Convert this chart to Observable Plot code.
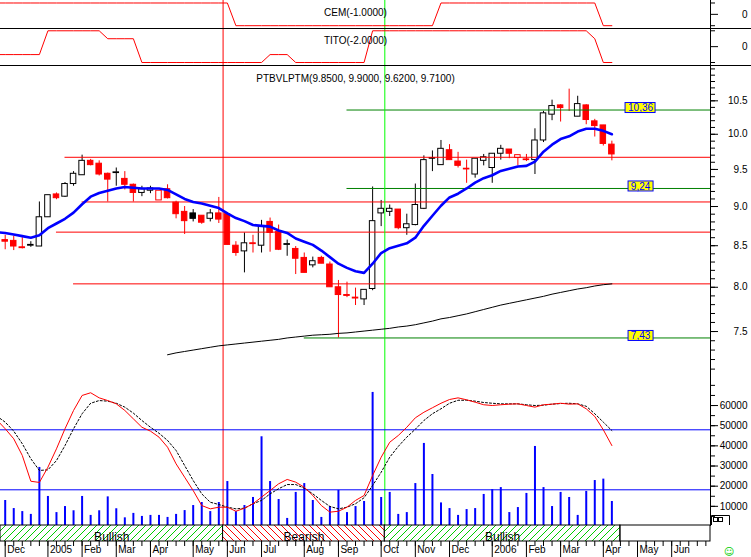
<!DOCTYPE html>
<html>
<head>
<meta charset="utf-8">
<script src="https://cdn.jsdelivr.net/npm/d3@7"></script>
<script src="https://cdn.jsdelivr.net/npm/@observablehq/plot@0.6"></script>
<style>
  html, body { margin: 0; padding: 0; background: #fff; }
  #chart { position: relative; width: 751px; height: 557px; overflow: hidden; background: #fff;
           font-family: "Liberation Sans", Arial, sans-serif; }
  .sep { position: absolute; left: 0; width: 751px; height: 1px; background: #000; }
  .deco { position: absolute; }
</style>
</head>
<body>
<svg width="0" height="0" style="position:absolute">
  <defs>
    <pattern id="hatchBull" patternUnits="userSpaceOnUse" width="7" height="7">
      <rect width="7" height="7" fill="#ffffff"></rect>
      <path d="M0,7L7,0M-1,1L1,-1M6,8L8,6" stroke="#00cc00" stroke-width="1"></path>
    </pattern>
    <pattern id="hatchBear" patternUnits="userSpaceOnUse" width="7" height="7">
      <rect width="7" height="7" fill="#ffffff"></rect>
      <path d="M0,0L7,7M-1,6L1,8M6,-1L8,1" stroke="#ff0000" stroke-width="1"></path>
    </pattern>
  </defs>
</svg>
<div id="chart"></div>
<script>
// ---------------- DATA ----------------
const DAY = 864e5;
const firstBar = Date.UTC(2004, 11, 3);   // weekly bars, week ending Friday 3 Dec 2004
const firstIndicator = Date.UTC(2004, 10, 26); // indicator series start one week earlier
const prevClose0 = 8.60;

const opens = [8.57,8.56,8.48,8.50,8.49,8.86,9.16,9.13,9.30,9.42,
  9.62,9.58,9.44,9.45,9.37,9.29,9.18,9.21,9.08,9.23,
  9.05,8.93,8.91,8.88,8.84,8.91,8.90,8.50,8.43,8.53,
  8.50,8.80,8.67,8.51,8.46,8.35,8.26,8.35,8.27,8.00,
  7.91,7.88,7.86,7.98,8.91,8.93,8.96,8.72,8.76,8.97,
  9.66,9.56,9.77,9.61,9.51,9.43,9.62,9.52,9.72,9.78,
  9.66,9.64,9.63,9.91,10.29,10.43,10.36,10.26,10.43,10.19,
  10.13,9.85];
const highs = [8.63,8.62,8.60,8.55,9.06,9.15,9.18,9.32,9.47,9.70,
  9.64,9.62,9.45,9.52,9.47,9.30,9.27,9.27,9.21,9.29,
  9.07,9.00,8.96,8.88,8.96,9.12,8.91,8.55,8.66,8.63,
  8.82,8.85,8.76,8.57,8.49,8.41,8.36,8.37,8.30,8.08,
  8.06,7.99,7.97,9.26,9.08,9.02,8.96,8.90,9.30,9.69,
  9.76,9.91,9.85,9.74,9.63,9.65,9.71,9.72,9.84,9.78,
  9.70,9.71,10.08,10.34,10.51,10.44,10.68,10.57,10.44,10.22,
  10.13,9.90];
const lows = [8.45,8.44,8.46,8.48,8.49,8.86,9.09,9.12,9.27,9.42,
  9.55,9.41,9.06,9.27,9.22,9.06,9.13,9.17,9.08,9.10,
  8.84,8.64,8.80,8.77,8.80,8.78,8.51,8.37,8.17,8.41,
  8.41,8.42,8.44,8.37,8.15,8.17,8.23,8.28,8.00,7.43,
  7.88,7.79,7.79,7.96,8.74,8.87,8.70,8.63,8.75,8.96,
  9.47,9.56,9.63,9.52,9.31,9.38,9.55,9.31,9.63,9.65,
  9.55,9.61,9.43,9.88,10.20,10.18,10.34,10.26,10.14,9.96,
  9.83,9.62];
const closes = [8.55,8.49,8.47,8.51,8.86,9.15,9.11,9.30,9.44,9.62,
  9.56,9.43,9.36,9.46,9.29,9.18,9.23,9.24,9.21,9.11,
  8.90,8.81,8.84,8.79,8.91,8.83,8.51,8.41,8.53,8.52,
  8.74,8.66,8.45,8.52,8.34,8.17,8.31,8.28,8.00,7.91,
  7.90,7.87,7.97,8.81,8.97,8.97,8.72,8.77,9.02,9.63,
  9.65,9.79,9.63,9.55,9.50,9.65,9.67,9.72,9.79,9.72,
  9.70,9.63,9.91,10.31,10.42,10.39,10.36,10.45,10.21,10.12,
  9.86,9.71];
const volumes = [12900,8900,7400,6000,29300,14900,6900,9900,7800,14900,
  5500,7800,14700,8800,4300,6500,5000,5500,5500,4500,
  6000,7900,10400,11900,7400,11900,22300,7400,10400,14400,
  44500,22300,13400,4000,16900,21300,12900,4500,9900,17900,
  6900,9900,12400,66500,14400,16900,6000,6900,21300,41200,
  25800,11700,8900,5500,8400,8900,15900,18300,19300,6900,
  9400,16400,39700,19300,9900,16900,14400,5500,17400,22800,
  23500,12400];

// 10-week average (blue), from the week before the first bar
const maShort = [8.67, 8.66,8.64,8.62,8.60,8.63,8.72,8.78,8.84,8.92,9.03,
  9.13,9.18,9.21,9.24,9.26,9.25,9.24,9.24,9.24,9.22,
  9.16,9.10,9.06,9.04,9.01,8.98,8.91,8.85,8.81,8.76,
  8.75,8.74,8.69,8.66,8.59,8.55,8.51,8.44,8.36,8.28,
  8.23,8.19,8.17,8.28,8.41,8.47,8.50,8.53,8.60,8.75,
  8.88,9.01,9.12,9.17,9.24,9.32,9.38,9.42,9.48,9.51,
  9.54,9.55,9.61,9.75,9.85,9.93,9.97,10.04,10.08,10.08,
  10.05,10.00];
// long average (black), starts at bar 19
const maLongStart = 19;
const maLong = [7.25,7.27,7.285,7.30,7.315,7.33,7.345,7.355,7.365,7.375,
  7.385,7.395,7.405,7.415,7.43,7.44,7.45,7.46,7.465,7.47,
  7.48,7.485,7.495,7.505,7.515,7.525,7.535,7.55,7.56,7.575,
  7.595,7.615,7.64,7.655,7.675,7.695,7.72,7.745,7.77,7.795,
  7.815,7.835,7.855,7.875,7.895,7.92,7.94,7.96,7.98,7.995,
  8.015,8.03,8.04];

// oscillator (lower panel), from the week before the first bar
const oscK = [76.7, 70.7,64.0,52.9,35.7,34.9,45.1,57.3,70.7,82.9,92.9,
  94.7,91.3,89.5,87.3,82.9,77.3,71.7,69.1,65.1,58.4,
  47.3,38.4,29.5,19.5,17.3,18.4,18.4,15.7,17.7,20.7,
  25.1,29.5,34.0,36.9,35.1,31.7,26.2,19.5,15.1,15.7,
  18.4,22.9,26.2,39.5,51.7,61.7,66.2,71.7,78.0,81.7,
  84.7,87.7,90.2,91.3,90.0,88.4,86.7,86.2,86.7,87.1,
  87.3,86.2,85.1,86.7,87.1,87.7,87.1,87.3,84.0,78.9,
  70.0,59.5];
const oscD = [79.2, 75.1,69.1,60.7,50.7,42.9,43.3,49.5,59.5,70.7,80.7,
  87.7,89.5,89.1,87.7,85.1,81.1,76.2,71.7,67.7,62.9,
  56.2,46.2,36.2,27.3,21.7,20.2,18.4,17.3,17.7,20.7,
  22.9,27.3,30.7,33.5,33.5,31.1,27.3,22.9,18.9,17.3,
  18.4,20.7,24.7,32.9,41.7,51.7,58.9,65.1,70.4,76.2,
  80.7,84.0,87.7,89.7,89.7,89.1,88.2,87.7,87.3,87.3,
  87.3,86.7,86.2,86.4,87.1,87.5,87.7,87.3,85.7,80.7,
  75.1,69.5];
const oscLevels = [30, 70];

// CEM and TITO indicators, from the week before the first bar
const cem = [1,1,1,1,1,1,1,1,1,1, 1,1,1,1,1,1,1,1,1,1, 1,1,1,1,1,1,1,1,
  -1,-1,-1,-1,-1,-1,-1,-1,-1,-1,-1,-1,-1,-1,-1,-1,-1,-1,-1,-1,-1,-1,-1,-1,
  1,1,1,1,1,1,1,1,1,1,1,1,1,1,1,1,1,1,1,
  -1,-1];
const tito = [-1,-1,-1,-1,-1,-1,
  2,2,2,2,2,2,2,
  1,1,1,1,
  -2,-2,-2,-2,-2,-2,-2,-2,-2,-2,-2,-2,-2,-2,-2,
  -1,-1,-1,
  -2,-2,-2,-2,-2,-2,-2,-2,-2,
  2,2,2,2,2,2,2,2,2,2,2,2,2,2,2,2,2,2,2,2,2,2,2,2,2,2,
  1,
  -2,-2];

// horizontal levels
const supportLevels = [9.67, 9.06, 8.67, 8.04];
const supportStarts = ["2005-01-21", "2005-02-04", "2005-01-14", "2005-01-28"];
const targetLevels = [10.36, 9.24, 7.43];
const targetStarts = ["2005-09-09", "2005-09-09", "2005-08-05"];
// signal verticals
const signalDates = ["2005-05-30T12:00Z", "2005-10-10T00:00Z"];
const signalColors = ["#ff0000", "#00ff00"];
// regime band
const regimeNames = ["Bullish", "Bearish", "Bullish"];
const regimeEnds = ["2005-05-30T12:00Z", "2005-10-10T00:00Z", "2006-04-21T00:00Z"];

const cemTitle = "CEM(-1.0000)";
const titoTitle = "TITO(-2.0000)";
const priceTitle = "PTBVLPTM(9.8500, 9.9000, 9.6200, 9.7100)";

const priceMajor = [7.5, 8.0, 8.5, 9.0, 9.5, 10.0, 10.5];
const volumeMajor = [10000, 20000, 30000, 40000, 50000, 60000];

// ---------------- BUILD ----------------
const W = 751;
const xMin = new Date(Date.UTC(2004, 10, 29, 3, 36));
const xMax = new Date(Date.UTC(2006, 6, 3, 19, 12));
const pxPerMs = 710 / (xMax - xMin);
const halfBody = 2.75 / pxPerMs;

const bars = closes.map((c, k) => ({
  date: new Date(firstBar + k * 7 * DAY), o: opens[k], h: highs[k], l: lows[k], c,
  prev: k ? closes[k - 1] : prevClose0, v: volumes[k]
}));
const candleColor = d => d.c >= d.prev ? "#000000" : "#ff0000";
const indDate = k => new Date(firstIndicator + k * 7 * DAY);
const rows = arr => arr.map((value, k) => ({date: indDate(k), value}));
const longRows = maLong.map((value, k) => ({date: new Date(firstBar + (maLongStart + k) * 7 * DAY), value}));
const levelRows = [
  ...supportLevels.map((value, k) => ({value, start: new Date(supportStarts[k]), col: "#ff0000"})),
  ...targetLevels.map((value, k) => ({value, start: new Date(targetStarts[k]), col: "#008000"}))
];
const commaFmt = v => d3.format(".2f")(v).replace(".", ",");
const targetRows = targetLevels.map(value => ({value, label: commaFmt(value)}));
const labelDate = new Date("2006-05-07T12:00Z");
const signals = signalDates.map((d, k) => ({date: new Date(d), col: signalColors[k]}));
const regimes = regimeNames.map((name, k) => ({
  name, start: k ? new Date(regimeEnds[k - 1]) : xMin, end: new Date(regimeEnds[k])
}));

const axisWeeks = d3.range(83).map(k => new Date(firstBar + k * 7 * DAY));
const monthStarts = axisWeeks.filter((d, k) => k === 0 || d.getUTCMonth() !== axisWeeks[k - 1].getUTCMonth());
const monthLabel = d => d.getUTCMonth() === 0 ? String(d.getUTCFullYear()) : d3.utcFormat("%b")(d);

const chart = document.getElementById("chart");
const baseStyle = {background: "transparent", overflow: "hidden",
  fontFamily: "'Liberation Sans', Arial, sans-serif", fontSize: "10px", color: "#000"};

function panel(top, height, y, marks) {
  const svg = Plot.plot({
    width: W, height, marginLeft: 0, marginRight: 41, marginTop: 0, marginBottom: 0,
    style: baseStyle,
    x: {type: "utc", domain: [xMin, xMax], axis: null, label: null},
    y: y ? {label: null, ...y} : undefined,
    color: {type: "identity"}, marks
  });
  svg.style.position = "absolute";
  svg.style.left = "0px";
  svg.style.top = top + "px";
  chart.appendChild(svg);
  return svg;
}
const signalMarks = () => Plot.ruleX(signals, {x: "date", stroke: "col"});
const rightLine = () => Plot.ruleX([xMax], {stroke: "#000"});
const rightAxis = (major, minor, fmt) => [
  Plot.axisY(minor, {anchor: "right", tickSize: 4, fill: "none", label: null}),
  Plot.axisY(major, {anchor: "right", tickSize: 7, tickPadding: 30, textAnchor: "end", tickFormat: fmt, label: null})
];

// CEM panel
panel(0, 28, {domain: [-1.247, 1.22]}, [
  signalMarks(),
  Plot.line(rows(cem), {x: "date", y: "value", stroke: "#ff0000", strokeWidth: 1}),
  Plot.text([cemTitle], {frameAnchor: "top", dy: 8, text: d => d}),
  rightLine(),
  ...rightAxis([0], [-1, 1], d => String(d))
]);

// TITO panel
panel(28, 37, {domain: [-2.377, 2.289]}, [
  signalMarks(),
  Plot.line(rows(tito), {x: "date", y: "value", stroke: "#ff0000", strokeWidth: 1}),
  Plot.text([titoTitle], {frameAnchor: "top", dy: 8, text: d => d}),
  rightLine(),
  ...rightAxis([0], [-2, 2], d => String(d))
]);

// Price panel
const priceMinor = d3.range(71, 111).map(k => k / 10);
const priceSvg = panel(65, 312, {type: "log", domain: [7.0137, 11.055]}, [
  Plot.ruleX(bars, {x: "date", y1: "l", y2: "h", stroke: candleColor}),
  Plot.rect(bars.filter(d => d.o !== d.c), {
    x1: d => new Date(+d.date - halfBody), x2: d => new Date(+d.date + halfBody),
    y1: "o", y2: "c",
    fill: d => d.c < d.o ? candleColor(d) : "#ffffff", stroke: candleColor, strokeWidth: 1
  }),
  Plot.ruleY(levelRows, {y: "value", x1: "start", x2: () => xMax, stroke: "col"}),
  signalMarks(),
  Plot.line(longRows, {x: "date", y: "value", stroke: "#000000", strokeWidth: 1}),
  Plot.line(rows(maShort), {x: "date", y: "value", stroke: "#0000ff", strokeWidth: 2.6}),
  rightLine(),
  ...rightAxis(priceMajor, priceMinor, d3.format(".1f")),
  Plot.text([priceTitle], {frameAnchor: "top", dy: 9, text: d => d}),
  Plot.text(targetRows, {x: () => labelDate, y: "value", text: "label", dy: -2, fill: "#0000ff"})
]);
// yellow boxes behind the level labels
{
  const ns = "http://www.w3.org/2000/svg";
  const wanted = new Set(targetRows.map(d => d.label));
  Array.from(priceSvg.querySelectorAll("text"))
    .filter(t => wanted.has(t.textContent.trim()))
    .forEach(t => {
      const b = t.getBBox();
      const r = document.createElementNS(ns, "rect");
      r.setAttribute("x", Math.round(b.x) - 2.5);
      r.setAttribute("y", Math.round(b.y) + 0.5);
      r.setAttribute("width", Math.round(b.width) + 5);
      r.setAttribute("height", Math.round(b.height) - 1);
      r.setAttribute("fill", "#ffff00");
      r.setAttribute("stroke", "#0000ff");
      r.setAttribute("stroke-width", "1");
      if (t.getAttribute("transform")) r.setAttribute("transform", t.getAttribute("transform"));
      t.parentNode.insertBefore(r, t);
    });
}

// Volume panel
const volumeMinor = d3.range(5000, 75000, 5000);
panel(377, 149, {domain: [0, 149 * 496]}, [
  Plot.ruleX(bars, {x: "date", y1: 0, y2: "v", stroke: "#0000ff", strokeWidth: 2}),
  signalMarks(),
  rightLine(),
  ...rightAxis(volumeMajor, volumeMinor, d3.format("d"))
]);

// Oscillator overlay
panel(377, 149, {domain: [5.53, 104.87], axis: null}, [
  Plot.ruleY(oscLevels, {stroke: "#0000ff"}),
  Plot.line(rows(oscD), {x: "date", y: "value", stroke: "#000000", strokeWidth: 1, strokeDasharray: "2,2"}),
  Plot.line(rows(oscK), {x: "date", y: "value", stroke: "#ff0000", strokeWidth: 1})
]);

// Regime band + time axis
panel(524, 33, null, [
  Plot.rect(regimes, {x1: "start", x2: "end", insetTop: 1, insetBottom: 16,
    fill: d => d.name === "Bullish" ? "url(#hatchBull)" : "url(#hatchBear)", stroke: "#000000"}),
  Plot.rect([{}], {x1: () => regimes[regimes.length - 1].end, x2: () => xMax, insetTop: 1, insetBottom: 16,
    fill: "none", stroke: "#000000"}),
  Plot.text(regimes, {x: d => new Date((+d.start + +d.end) / 2), text: "name",
    frameAnchor: "top", dy: 8, fontSize: 12}),
  Plot.ruleX(axisWeeks, {x: d => d, insetTop: 17, insetBottom: 11, stroke: "#000000"}),
  Plot.ruleX(monthStarts, {x: d => d, insetTop: 17, stroke: "#000000"}),
  Plot.text(monthStarts, {x: d => d, text: monthLabel, frameAnchor: "bottom", dy: -4.5, dx: 2,
    textAnchor: "start", fontSize: 10})
]);

// panel separators
[28, 65].forEach(y => {
  const d = document.createElement("div");
  d.className = "sep";
  d.style.top = y + "px";
  chart.appendChild(d);
});

// small decorations at bottom right
chart.insertAdjacentHTML("beforeend",
  '<svg class="deco" style="left:0;top:0" width="751" height="557">' +
  '<path d="M711.5,525V515.5H729.5V525" fill="none" stroke="#000"/>' +
  '<rect x="713.5" y="517.5" width="4" height="4" fill="none" stroke="#000"/>' +
  '<rect x="718.5" y="517.5" width="4" height="4" fill="none" stroke="#000"/>' +
  '<text x="729" y="551" text-anchor="middle" dominant-baseline="central" font-family="DejaVu Sans" font-size="10" fill="#00cc00">\u263A</text>' +
  '</svg>');
</script>
</body>
</html>
